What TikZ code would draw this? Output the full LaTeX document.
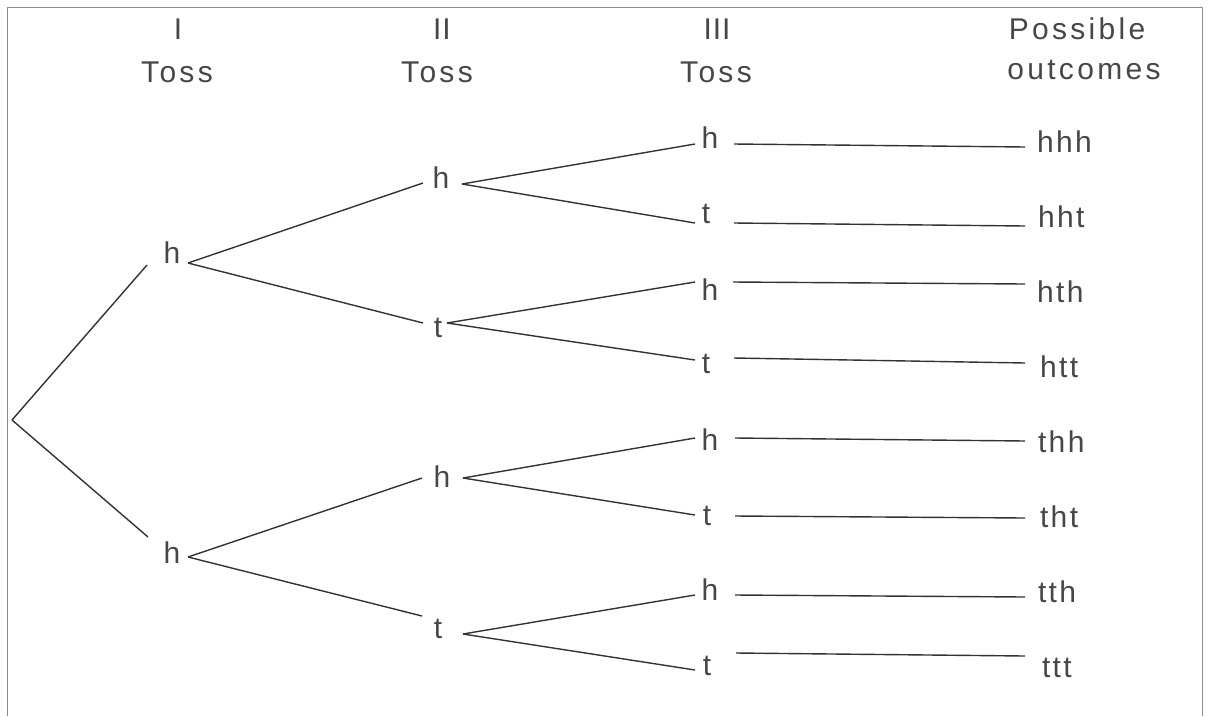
\documentclass[tikz,border=0pt]{standalone}
\usepackage{fontspec}
\setmainfont[LetterSpace=8]{Liberation Sans}
\begin{document}
\begin{tikzpicture}[x=1pt,y=-1pt,
  lbl/.style={anchor=base,inner sep=0pt,outer sep=0pt,font=\fontsize{30}{32}\selectfont,text=black!72},
  olbl/.style={lbl,anchor=base west},
  hdr/.style={lbl,font=\fontsize{30}{32}\selectfont\addfontfeature{LetterSpace=11}},
  roman/.style={lbl,font=\fontsize{30}{32}\selectfont\addfontfeature{LetterSpace=3}},
  edge/.style={draw=black!80,line width=1.4pt},
  frame/.style={draw=black!45,line width=1pt}]
\useasboundingbox (0,0) rectangle (1208,716);
\draw[frame] (7,716) -- (7,7) -- (1202,7) -- (1202,716);
% headers
\node[roman] (h1a) at (178,39) {I};
\node[hdr] (h1b) at (177,82) {Toss};
\node[roman] (h2a) at (442,39) {II};
\node[hdr] (h2b) at (437,82) {Toss};
\node[roman] (h3a) at (717,39) {III};
\node[hdr] (h3b) at (716,82) {Toss};
\node[hdr] (h4a) at (1077,39) {Possible};
\node[hdr] (h4b) at (1084,79) {outcomes};
% tree
\coordinate (root) at (12,420);
\node[lbl] (A) at (172,263) {h};
\node[lbl] (B) at (172,563) {h};
\node[lbl] (AA) at (441,188) {h};
\node[lbl] (AB) at (438,337) {t};
\node[lbl] (BA) at (442,487) {h};
\node[lbl] (BB) at (438,638) {t};
\node[lbl] (AAA) at (710,148) {h};
\node[lbl] (AAB) at (706,223) {t};
\node[lbl] (ABA) at (710,300) {h};
\node[lbl] (ABB) at (706,373) {t};
\node[lbl] (BAA) at (710,450) {h};
\node[lbl] (BAB) at (707,525) {t};
\node[lbl] (BBA) at (710,600) {h};
\node[lbl] (BBB) at (707,675) {t};
% outcomes
\node[olbl] (oAAA) at (1037,152) {hhh};
\node[olbl] (oAAB) at (1038,227) {hht};
\node[olbl] (oABA) at (1037,302) {hth};
\node[olbl] (oABB) at (1040,377) {htt};
\node[olbl] (oBAA) at (1038,452) {thh};
\node[olbl] (oBAB) at (1040,527) {tht};
\node[olbl] (oBBA) at (1038,602) {tth};
\node[olbl] (oBBB) at (1042,677) {ttt};
% edges
\draw[edge] (root) -- ([shift={(-25,2)}]A.base);
\draw[edge] (root) -- ([shift={(-24,-26)}]B.base);
\draw[edge] ([shift={(16,0)}]A.base) -- ([shift={(-18,-5)}]AA.base);
\draw[edge] ([shift={(16,0)}]A.base) -- ([shift={(-15,-14)}]AB.base);
\draw[edge] ([shift={(16,-6)}]B.base) -- ([shift={(-20,-9)}]BA.base);
\draw[edge] ([shift={(16,-6)}]B.base) -- ([shift={(-16,-22)}]BB.base);
\draw[edge] ([shift={(21,-4)}]AA.base) -- ([shift={(-15,-4)}]AAA.base);
\draw[edge] ([shift={(21,-4)}]AA.base) -- ([shift={(-11,0)}]AAB.base);
\draw[edge] ([shift={(9,-14)}]AB.base) -- ([shift={(-15,-18)}]ABA.base);
\draw[edge] ([shift={(9,-14)}]AB.base) -- ([shift={(-11,-13)}]ABB.base);
\draw[edge] ([shift={(21,-9)}]BA.base) -- ([shift={(-15,-12)}]BAA.base);
\draw[edge] ([shift={(21,-9)}]BA.base) -- ([shift={(-12,-10)}]BAB.base);
\draw[edge] ([shift={(25,-4)}]BB.base) -- ([shift={(-15,-5)}]BBA.base);
\draw[edge] ([shift={(25,-4)}]BB.base) -- ([shift={(-12,-5)}]BBB.base);
% outcome lines
\draw[edge] ([shift={(24,-4)}]AAA.base) -- ([shift={(-12,-5)}]oAAA.base west);
\draw[edge] ([shift={(28,0)}]AAB.base) -- ([shift={(-13,-1)}]oAAB.base west);
\draw[edge] ([shift={(23,-18)}]ABA.base) -- ([shift={(-12,-18)}]oABA.base west);
\draw[edge] ([shift={(28,-15)}]ABB.base) -- ([shift={(-15,-14)}]oABB.base west);
\draw[edge] ([shift={(25,-12)}]BAA.base) -- ([shift={(-13,-11)}]oBAA.base west);
\draw[edge] ([shift={(28,-9)}]BAB.base) -- ([shift={(-15,-9)}]oBAB.base west);
\draw[edge] ([shift={(25,-5)}]BBA.base) -- ([shift={(-13,-5)}]oBBA.base west);
\draw[edge] ([shift={(29,-22)}]BBB.base) -- ([shift={(-17,-21)}]oBBB.base west);
\end{tikzpicture}
\end{document}
